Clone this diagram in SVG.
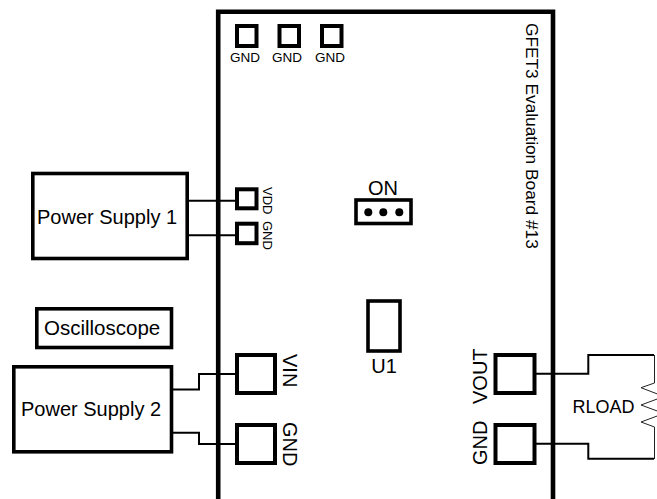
<svg xmlns="http://www.w3.org/2000/svg" width="657" height="499" viewBox="0 0 657 499">
<style>
.box{fill:#fff;stroke:#000;stroke-width:3.6}
.pad{fill:#fff;stroke:#000;stroke-width:4}
.wire{fill:none;stroke:#000;stroke-width:2}
.thin{fill:none;stroke:#222;stroke-width:1}
text{font-family:"Liberation Sans",Arial,sans-serif;fill:#000}
.s{font-size:13.500px}
.v{font-size:13px}
.m{font-size:20px}
</style>
<rect width="657" height="499" fill="#fff"/>
<path d="M218.200 499V11.700H553V499" fill="none" stroke="#000" stroke-width="4.600"/>
<g id="connectors">
<path class="wire" d="M188 200.700H237"/>
<path class="wire" d="M188 235.300H237"/>
<path class="wire" d="M172 389.500H199V374H237"/>
<path class="wire" d="M172 432.700H199V444H237"/>
<path class="wire" d="M534 373.700H588.300V355H654"/>
<path class="wire" d="M534 443.700H588.300V458.700H654"/>
<path class="thin" d="M654.500 355V383L641 387.700L664 396.500L641 405L664 413.500L641 422L654.500 427V459"/>
</g>
<g id="gnd1"><rect class="pad" x="237" y="26" width="19.500" height="20"/><text class="s" x="245" y="62" text-anchor="middle">GND</text></g>
<g id="gnd2"><rect class="pad" x="279.500" y="26" width="19.500" height="20"/><text class="s" x="287" y="62" text-anchor="middle">GND</text></g>
<g id="gnd3"><rect class="pad" x="322" y="26" width="19.500" height="20"/><text class="s" x="330" y="62" text-anchor="middle">GND</text></g>
<g id="board-title"><text style="font-size:17.300px" transform="translate(526,23) rotate(90)">GFET3 Evaluation Board #13</text></g>
<g id="ps1"><rect class="box" x="32.800" y="173.500" width="154.400" height="85"/><text class="m" x="37" y="224">Power Supply 1</text></g>
<g id="vdd"><rect class="pad" x="237" y="189.300" width="19.500" height="19"/><text class="v" transform="translate(263,187) rotate(90)">VDD</text></g>
<g id="gnd4"><rect class="pad" x="237" y="223.700" width="19.500" height="19.500"/><text class="v" transform="translate(263,221) rotate(90)">GND</text></g>
<g id="on"><rect class="box" x="356" y="200" width="55" height="23.500"/><circle cx="368.300" cy="212.300" r="4"/><circle cx="383.300" cy="212.300" r="4"/><circle cx="399.300" cy="212.300" r="4"/><text class="m" x="383" y="195" text-anchor="middle">ON</text></g>
<g id="u1"><rect class="box" x="368" y="301" width="32" height="50"/><text class="m" x="384" y="373" text-anchor="middle">U1</text></g>
<g id="osc"><rect class="box" x="36.800" y="308.800" width="134.700" height="38.700"/><text class="m" style="font-size:20.500px" x="44" y="335">Oscilloscope</text></g>
<g id="ps2"><rect class="box" x="13.800" y="366.800" width="157.700" height="85"/><text class="m" x="21" y="416">Power Supply 2</text></g>
<g id="vin"><rect class="pad" x="237" y="355" width="38" height="38"/><text class="m" transform="translate(283,354) rotate(90)">VIN</text></g>
<g id="gnd5"><rect class="pad" x="237" y="425" width="38" height="38"/><text class="m" transform="translate(283,422) rotate(90)">GND</text></g>
<g id="vout"><rect class="pad" x="495.500" y="355" width="39" height="38"/><text class="m" transform="translate(487,404) rotate(-90)">VOUT</text></g>
<g id="gnd6"><rect class="pad" x="495.500" y="425" width="39" height="38"/><text class="m" transform="translate(487,465) rotate(-90)">GND</text></g>
<g id="rload"><text style="font-size:18px" x="572.500" y="413">RLOAD</text></g>
</svg>
